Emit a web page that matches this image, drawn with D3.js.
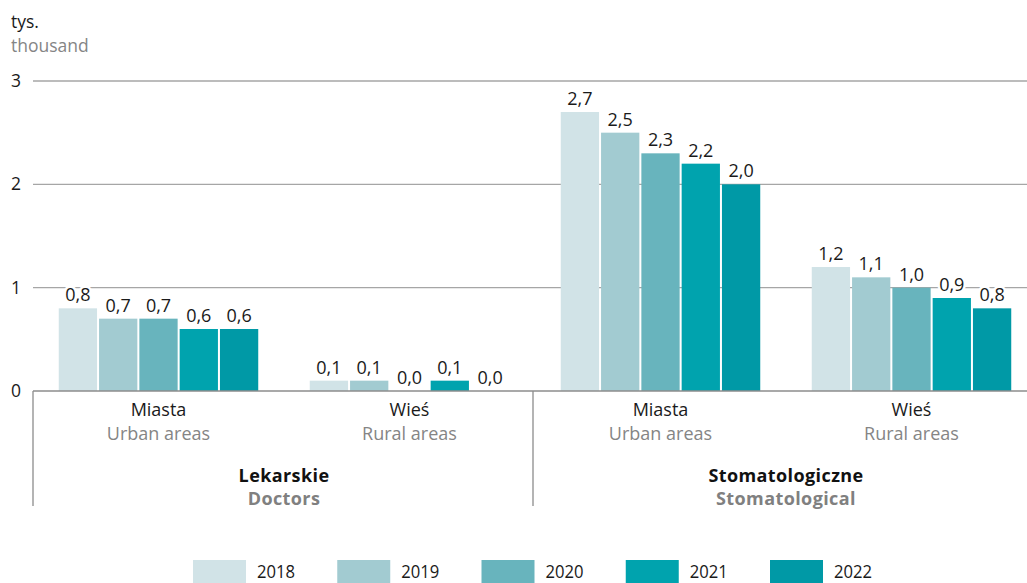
<!DOCTYPE html>
<html>
<head>
<meta charset="utf-8">
<script src="https://cdn.jsdelivr.net/npm/d3@7"></script>
<style>
  html, body { margin: 0; padding: 0; background: #fff; }
  svg { display: block; font-family: "Open Sans", "Noto Sans", sans-serif; }
</style>
</head>
<body>
<svg id="chart" width="1027" height="583"></svg>
<script>
// Physician and dentist practices (thousand), by area and year
const areasPl = ["Miasta", "Wieś", "Miasta", "Wieś"];
const areasEn = ["Urban areas", "Rural areas", "Urban areas", "Rural areas"];
const groupsPl = ["Lekarskie", "Stomatologiczne"];
const groupsEn = ["Doctors", "Stomatological"];
const years = ["2018", "2019", "2020", "2021", "2022"];
const values2018 = [0.8, 0.1, 2.7, 1.2];
const values2019 = [0.7, 0.1, 2.5, 1.1];
const values2020 = [0.7, 0.0, 2.3, 1.0];
const values2021 = [0.6, 0.1, 2.2, 0.9];
const values2022 = [0.6, 0.0, 2.0, 0.8];
const yTicks = [0, 1, 2, 3];
const colors = ["#d1e3e7", "#a2cbd1", "#68b4bd", "#00a3ae", "#0099a6"];

const series = [values2018, values2019, values2020, values2021, values2022];
const fmt = v => v.toFixed(1).replace(".", ",");

const svg = d3.select("#chart");
const plotLeft = 33, plotRight = 1037, plotBase = 391, plotTop = 81;

const x0 = d3.scaleBand().domain(d3.range(areasPl.length)).range([plotLeft, plotRight]).padding(0);
const outer = 24.75;
const x1 = d3.scaleBand().domain(years)
  .range([outer, x0.bandwidth() - outer])
  .paddingInner(0.05).paddingOuter(0.025);
const y = d3.scaleLinear().domain([0, 3]).range([plotBase, plotTop]);
const color = d3.scaleOrdinal().domain(years).range(colors);

// Unit title
svg.append("text").attr("x", 11).attr("y", 28).attr("font-size", 17.5).attr("fill", "#1a1a1a").text("tys.");
svg.append("text").attr("x", 11).attr("y", 52).attr("font-size", 17.5).attr("fill", "#858585").text("thousand");

// Gridlines and y tick labels
const yAxis = svg.append("g");
yAxis.selectAll("line").data(yTicks.filter(t => t > 0)).join("line")
  .attr("x1", plotLeft).attr("x2", 1027)
  .attr("y1", d => y(d)).attr("y2", d => y(d))
  .attr("stroke", "#a6a6a6").attr("stroke-width", 1.3);
yAxis.selectAll("text").data(yTicks).join("text")
  .attr("x", 11).attr("y", d => y(d)).attr("dy", "0.35em")
  .attr("font-size", 17.5).attr("fill", "#1a1a1a").text(d => d);

// Bars
const groups = svg.append("g").selectAll("g").data(d3.range(areasPl.length)).join("g")
  .attr("transform", i => `translate(${x0(i)},0)`);
groups.selectAll("rect").data(i => years.map((yr, k) => ({ yr, v: series[k][i] }))).join("rect")
  .attr("x", d => x1(d.yr)).attr("width", x1.bandwidth())
  .attr("y", d => y(d.v)).attr("height", d => plotBase - y(d.v))
  .attr("fill", d => color(d.yr));

// Value labels with a white halo over the gridlines
groups.selectAll("text").data(i => years.map((yr, k) => ({ yr, v: series[k][i] }))).join("text")
  .attr("x", d => x1(d.yr) + x1.bandwidth() / 2).attr("y", d => y(d.v) - 7)
  .attr("text-anchor", "middle").attr("font-size", 18).attr("fill", "#1a1a1a")
  .attr("stroke", "#fff").attr("stroke-width", 5).attr("paint-order", "stroke")
  .text(d => fmt(d.v));

// Baseline
svg.append("line").attr("x1", plotLeft).attr("x2", 1027).attr("y1", plotBase).attr("y2", plotBase)
  .attr("stroke", "#8c8c8c").attr("stroke-width", 1.5);

// Group separators
const sepX = [x0(0), x0(2) - 2];
svg.append("g").selectAll("line").data(sepX).join("line")
  .attr("x1", d => d).attr("x2", d => d)
  .attr("y1", plotBase).attr("y2", 506)
  .attr("stroke", "#8c8c8c").attr("stroke-width", 1.3);

// Area labels
const cat = svg.append("g").selectAll("g").data(d3.range(areasPl.length)).join("g");
cat.append("text").attr("x", i => x0(i) + x0.bandwidth() / 2).attr("y", 416)
  .attr("text-anchor", "middle").attr("font-size", 18).attr("fill", "#1a1a1a").text(i => areasPl[i]);
cat.append("text").attr("x", i => x0(i) + x0.bandwidth() / 2).attr("y", 440)
  .attr("text-anchor", "middle").attr("font-size", 18).attr("fill", "#858585").text(i => areasEn[i]);

// Group labels
const grp = svg.append("g").selectAll("g").data(d3.range(groupsPl.length)).join("g");
const gx = g => (x0(g * 2) + x0(g * 2 + 1) + x0.bandwidth()) / 2;
grp.append("text").attr("x", gx).attr("y", 482)
  .attr("text-anchor", "middle").attr("font-size", 18).attr("font-weight", "bold")
  .attr("letter-spacing", 0.4).attr("fill", "#111").text(g => groupsPl[g]);
grp.append("text").attr("x", gx).attr("y", 505)
  .attr("text-anchor", "middle").attr("font-size", 18).attr("font-weight", "bold")
  .attr("letter-spacing", 0.4).attr("fill", "#808080").text(g => groupsEn[g]);

// Legend
const legendX = d3.scalePoint().domain(years).range([193, 770]);
const leg = svg.append("g").selectAll("g").data(years).join("g")
  .attr("transform", d => `translate(${legendX(d)},560)`);
leg.append("rect").attr("width", 53).attr("height", 23).attr("fill", d => color(d));
leg.append("text").attr("transform", "translate(64,17.5) scale(0.9,1)")
  .attr("font-size", 18.5).attr("fill", "#1a1a1a").text(d => d);
</script>
</body>
</html>
